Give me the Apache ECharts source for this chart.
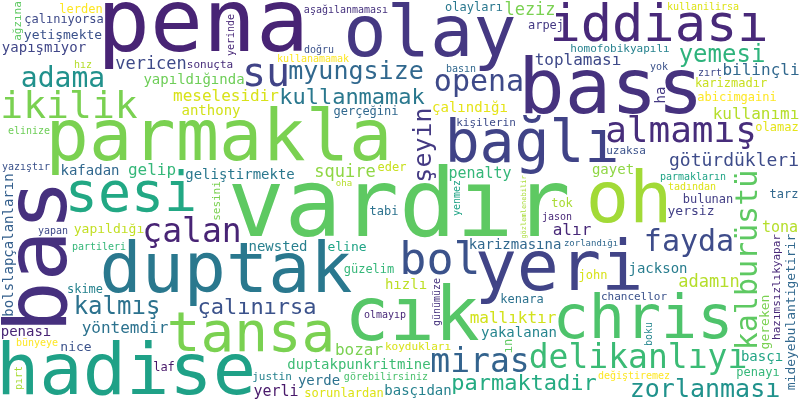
<!DOCTYPE html>
<html lang="tr">
<head>
<meta charset="UTF-8">
<title>Kelime bulutu</title>
<script src="https://cdn.jsdelivr.net/npm/echarts/dist/echarts.min.js"></script>
<style>
    html, body { margin: 0; padding: 0; background: #ffffff; }
    #chart { width: 800px; height: 400px; }
</style>
</head>
<body>
<div id="chart"></div>
<script>
    // words of the cloud and their weights (bigger = more frequent)
    const words = [
        'vardır', 'pena', 'bas', 'bass', 'cık', 'parmakla', 'hadise', 'oh', 'olay', 'duptak',
        'yeri', 'chris', 'bağlı', 'tansa', 'sesi', 'iddiası', 'bol', 'su', 'ikilik', 'almamış',
        'miras', 'çalan', 'delikanlıyı', 'fayda', 'opena', 'kalburüstü', 'zorlanması', 'şeyin', 'adama', 'kalmış',
        'parmaktadir', 'yemesi', 'myungsize', 'kullanmamak', 'çalınırsa', 'götürdükleri', 'leziz', 'squire', 'vericen', 'adamın',
        'toplaması', 'bozar', 'gelip', 'bilinçli', 'alır', 'meselesidir', 'yöntemdir', 'kullanımı', 'mallıktır', 'penalty',
        'yerli', 'tona', 'duptakpunkritmine', 'hızlı', 'anthony', 'penası', 'gayet', 'basçıdan', 'geliştirmekte', 'yapışmıyor',
        'jackson', 'çalındığı', 'yerde', 'kafadan', 'basçı', 'yakalanan', 'yapıldığında', 'bolslapçalanların', 'ha', 'karizmasına',
        'newsted', 'nice', 'yersiz', 'homofobikyapılı', 'eline', 'yetişmekte', 'gereken', 'mideyebulantigetirir', 'yapıldığı', 'çalınıyorsa',
        'karizmadır', 'kenara', 'hazımsızlıkyapar', 'skime', 'abicimgaini', 'ın', 'tabi', 'lerden', 'bulunan', 'olayları',
        'güzelim', 'aşağılanmaması', 'penayı', 'tok', 'gerçeğini', 'görebilirsiniz', 'olamaz', 'john', 'eder', 'laf',
        'tarz', 'arpej', 'sorunlardan', 'sonuçta', 'değiştiremez', 'uzaksa', 'koydukları', 'sesini', 'ağzına', 'chancellor',
        'kişilerin', 'justin', 'elinize', 'boku', 'yenmez', 'yerinde', 'yapan', 'yok', 'günümüze', 'parmakların',
        'pırt', 'tadından', 'kullanamamak', 'olmayıp', 'hız', 'gözlemlenebilir', 'basın', 'partileri', 'yazıştır', 'kullanilirsa',
        'jason', 'doğru', 'bünyeye', 'zırt', 'zorlandığı', 'oha'
    ];
    const weights = [
        95, 88, 85, 77, 75, 72, 72, 72, 72, 70,
        70, 60, 58, 56, 55, 52, 45, 40, 38, 36,
        33, 33, 33, 30, 30, 30, 25, 25, 28, 24,
        22, 24, 25, 22, 22, 18, 17, 17, 17, 17,
        16, 16, 16, 16, 16, 16, 16, 16, 16, 15,
        15, 15, 14, 14, 14, 14, 14, 14, 14, 14,
        14, 14, 14, 14, 14, 14, 14, 14, 14, 14,
        14, 13, 13, 13, 13, 13, 13, 13, 13, 12,
        12, 12, 12, 12, 12, 12, 12, 12, 12, 12,
        12, 12, 12, 12, 12, 12, 12, 12, 12, 12,
        12, 12, 12, 11, 11, 11, 11, 11, 11, 11,
        11, 11, 10, 10, 10, 10, 10, 10, 10, 10,
        10, 10, 10, 10, 10, 10, 10, 10, 10, 10,
        10, 10, 10, 10, 10, 9
    ];

    // words written bottom-to-top
    const uprightWords = [
        'bas', 'kalburüstü', 'şeyin', 'bolslapçalanların', 'ha', 'gereken', 'mideyebulantigetirir',
        'hazımsızlıkyapar', 'ın', 'sesini', 'ağzına', 'boku', 'yenmez', 'yerinde', 'günümüze', 'pırt', 'gözlemlenebilir'
    ];

    // viridis colours per word
    const wordColors = {
        'vardır': '#5ec962', 'pena': '#482475', 'bas': '#46307e', 'bass': '#46327e', 'cık': '#56c667',
        'parmakla': '#7ad151', 'hadise': '#1fa187', 'oh': '#a2da37', 'olay': '#453882', 'duptak': '#2a788e',
        'yeri': '#414487', 'chris': '#4ec36b', 'bağlı': '#404387', 'tansa': '#7ad151', 'sesi': '#22a884',
        'iddiası': '#482979', 'bol': '#3b528b', 'su': '#414487', 'ikilik': '#7ad151', 'almamış': '#472d7b',
        'miras': '#33638d', 'çalan': '#482475', 'delikanlıyı': '#3bbb75', 'fayda': '#3e4c8a', 'opena': '#3e4a89',
        'kalburüstü': '#5ec962', 'zorlanması': '#20928c', 'şeyin': '#443a83', 'adama': '#21918c', 'kalmış': '#2c728e',
        'parmaktadir': '#25ab82', 'yemesi': '#2eb37c', 'myungsize': '#31688e', 'kullanmamak': '#2a788e', 'çalınırsa': '#3b528b',
        'götürdükleri': '#3e4c8a', 'leziz': '#7ad151', 'squire': '#8fd744', 'vericen': '#3e4a89', 'adamın': '#b5de2b',
        'toplaması': '#3e4989', 'bozar': '#7ad151', 'gelip': '#35b779', 'bilinçli': '#31688e', 'alır': '#482878',
        'meselesidir': '#d8e219', 'yöntemdir': '#2c728e', 'kullanımı': '#b5de2b', 'mallıktır': '#d2e21b', 'penalty': '#35b779',
        'yerli': '#48186a', 'tona': '#b5de2b', 'duptakpunkritmine': '#3ebc74', 'hızlı': '#bddf26', 'anthony': '#d2e21b',
        'penası': '#482475', 'gayet': '#8fd744', 'basçıdan': '#26828e', 'geliştirmekte': '#2a788e', 'yapışmıyor': '#404688',
        'jackson': '#287d8e', 'çalındığı': '#e5e419', 'yerde': '#2c728e', 'kafadan': '#31688e', 'basçı': '#21a585',
        'yakalanan': '#25858e', 'yapıldığında': '#6ece58', 'bolslapçalanların': '#35608d', 'ha': '#443983', 'karizmasına': '#31688e',
        'newsted': '#277f8e', 'nice': '#3b528b', 'yersiz': '#424086', 'homofobikyapılı': '#26828e', 'eline': '#20a486',
        'yetişmekte': '#3b528b', 'gereken': '#7ad151', 'mideyebulantigetirir': '#31688e', 'yapıldığı': '#c2df23', 'çalınıyorsa': '#3e4a89',
        'karizmadır': '#c8e020', 'kenara': '#2c728e', 'hazımsızlıkyapar': '#482878', 'skime': '#26828e', 'abicimgaini': '#fde725',
        'ın': '#5ec962', 'tabi': '#2c728e', 'lerden': '#fde725', 'bulunan': '#433e85', 'olayları': '#2a788e',
        'güzelim': '#35b779', 'aşağılanmaması': '#46327e', 'penayı': '#35b779', 'tok': '#a8db34', 'gerçeğini': '#31688e',
        'görebilirsiniz': '#4ac16d', 'olamaz': '#e5e419', 'john': '#d8e219', 'eder': '#c8e020', 'laf': '#48186a',
        'tarz': '#31688e', 'arpej': '#443983', 'sorunlardan': '#dde318', 'sonuçta': '#472c7a', 'değiştiremez': '#fde725',
        'uzaksa': '#3b528b', 'koydukları': '#d8e219', 'sesini': '#7ad151', 'ağzına': '#5ec962', 'chancellor': '#3b528b',
        'kişilerin': '#3e4c8a', 'justin': '#26828e', 'elinize': '#6ece58', 'boku': '#24868e', 'yenmez': '#20a386',
        'yerinde': '#482878', 'yapan': '#3e4989', 'yok': '#3b528b', 'günümüze': '#46337e', 'parmakların': '#20a486',
        'pırt': '#a8db34', 'tadından': '#dde318', 'kullanamamak': '#fde725', 'olmayıp': '#482878', 'hız': '#b5de2b',
        'gözlemlenebilir': '#a8db34', 'basın': '#31688e', 'partileri': '#35b779', 'yazıştır': '#3b528b', 'kullanilirsa': '#dde318',
        'jason': '#482878', 'doğru': '#3b528b', 'bünyeye': '#fde725', 'zırt': '#3e4989', 'zorlandığı': '#31688e', 'oha': '#b5de2b'
    };

    const W = 800, H = 400;
    const FONT = '"DejaVu Sans Mono", monospace';
    const maxFont = 95;
    const maxWeight = Math.max(...weights);
    const fontFor = w => Math.round(maxFont * w / maxWeight);

    // --- layout: pack words into the canvas, biggest first ---
    const cvs = document.createElement('canvas');
    cvs.width = W;
    cvs.height = H;
    const ctx = cvs.getContext('2d', { willReadFrequently: true });
    ctx.textAlign = 'center';
    ctx.textBaseline = 'middle';
    ctx.fillStyle = '#000';

    const occ = new Uint8Array(W * H);
    const sat = new Int32Array((W + 1) * (H + 1));

    function rebuild(y0) {
        for (let y = y0; y < H; y++) {
            let row = 0;
            for (let x = 0; x < W; x++) {
                row += occ[y * W + x];
                sat[(y + 1) * (W + 1) + x + 1] = sat[y * (W + 1) + x + 1] + row;
            }
        }
    }

    function areaSum(x, y, w, h) {
        const a = y * (W + 1) + x, b = (y + h) * (W + 1) + x;
        return sat[b + w] - sat[b] - sat[a + w] + sat[a];
    }

    function measure(word, size, up) {
        ctx.font = size + 'px ' + FONT;
        const m = ctx.measureText(word);
        const L = Math.ceil(m.actualBoundingBoxLeft), R = Math.ceil(m.actualBoundingBoxRight);
        const A = Math.ceil(m.actualBoundingBoxAscent), D = Math.ceil(m.actualBoundingBoxDescent);
        return up ? { w: A + D, h: L + R, ox: A, oy: R } : { w: L + R, h: A + D, ox: L, oy: A };
    }

    const frac = v => v - Math.floor(v);
    const order = words.map((_, i) => i).sort((a, b) => weights[b] - weights[a]);
    const placed = [];

    order.forEach((i, k) => {
        const word = words[i];
        const up = uprightWords.includes(word);
        // spread the preferred spot of each word over the canvas
        const ax = frac(0.5 + k * 0.7548776662) * W;
        const ay = frac(0.5 + k * 0.5698402910) * H;
        for (let size = fontFor(weights[i]); size >= 7; size--) {
            const b = measure(word, size, up);
            const bw = b.w + 2, bh = b.h + 2;
            if (bw > W || bh > H) continue;
            let best = null, bestD = Infinity;
            for (let y = 0; y + bh <= H; y += 2) {
                for (let x = 0; x + bw <= W; x += 2) {
                    if (areaSum(x, y, bw, bh) !== 0) continue;
                    const dx = x + bw / 2 - ax, dy = y + bh / 2 - ay;
                    const d = dx * dx + dy * dy;
                    if (d < bestD) { bestD = d; best = [x, y]; }
                }
            }
            if (!best) continue;
            const ox = best[0] + 1 + b.ox, oy = best[1] + 1 + b.oy;
            ctx.font = size + 'px ' + FONT;
            ctx.save();
            ctx.translate(ox, oy);
            if (up) ctx.rotate(-Math.PI / 2);
            ctx.fillText(word, 0, 0);
            ctx.restore();
            const rx = Math.max(0, best[0] - 1), ry = Math.max(0, best[1] - 1);
            const rw = Math.min(W - rx, bw + 2), rh = Math.min(H - ry, bh + 2);
            const px = ctx.getImageData(rx, ry, rw, rh).data;
            for (let yy = 0; yy < rh; yy++) {
                for (let xx = 0; xx < rw; xx++) {
                    if (px[(yy * rw + xx) * 4 + 3] > 0) occ[(ry + yy) * W + rx + xx] = 1;
                }
            }
            rebuild(ry);
            placed.push({ word: word, x: ox, y: oy, size: size, up: up, color: wordColors[word] || '#31688e' });
            return;
        }
    });

    // --- chart ---
    const chart = echarts.init(document.getElementById('chart'));
    chart.setOption({
        animation: false,
        backgroundColor: '#ffffff',
        grid: { left: 0, right: 0, top: 0, bottom: 0 },
        xAxis: { type: 'value', min: 0, max: W, show: false },
        yAxis: { type: 'value', min: 0, max: H, inverse: true, show: false },
        series: [{
            type: 'custom',
            coordinateSystem: 'cartesian2d',
            silent: true,
            clip: false,
            data: placed.map(p => [p.x, p.y]),
            renderItem: function (params, api) {
                const p = placed[params.dataIndex];
                const pt = api.coord([api.value(0), api.value(1)]);
                return {
                    type: 'text',
                    x: pt[0],
                    y: pt[1],
                    rotation: p.up ? Math.PI / 2 : 0,
                    style: {
                        text: p.word,
                        font: p.size + 'px ' + FONT,
                        fill: p.color,
                        align: 'center',
                        verticalAlign: 'middle',
                        textAlign: 'center',
                        textVerticalAlign: 'middle'
                    }
                };
            }
        }]
    });
</script>
</body>
</html>
